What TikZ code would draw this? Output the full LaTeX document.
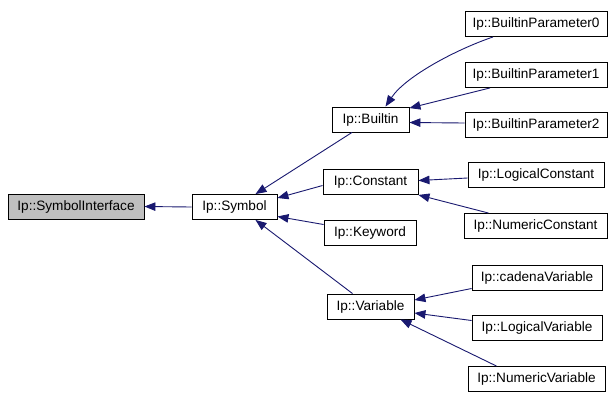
\documentclass[tikz,border=0pt]{standalone}
\usepackage{fontspec}
\setmainfont{Liberation Sans}
\usetikzlibrary{arrows.meta}
\definecolor{edgeblue}{RGB}{25,25,112}
\definecolor{basegray}{RGB}{191,191,191}
\begin{document}
\begin{tikzpicture}[x=1pt,y=-1pt,
  cls/.style={draw=black,line width=0.9pt,rectangle,inner sep=0pt,minimum height=25pt,font=\fontsize{13.6}{15}\selectfont,fill=white},
  arr/.style={draw=edgeblue,line width=0.9pt,-{Triangle[length=11pt,width=8.5pt,fill=edgeblue]}}]
\fill[white] (0,0) rectangle (615,400);
\useasboundingbox (0,0) rectangle (615,400);
\node[cls,fill=basegray,minimum width=136pt] (si) at (76,206.5) {Ip::SymbolInterface};
\node[cls,minimum width=85pt] (symbol) at (234.5,207) {Ip::Symbol};
\node[cls,minimum width=77pt] (builtin) at (370.5,119.5) {Ip::Builtin};
\node[cls,minimum width=95pt] (constant) at (370.5,182) {Ip::Constant};
\node[cls,minimum width=92pt] (keyword) at (370,232.5) {Ip::Keyword};
\node[cls,minimum width=87pt] (variable) at (370.5,306.5) {Ip::Variable};
\node[cls,minimum width=142pt] (bp0) at (536,24) {Ip::BuiltinParameter0};
\node[cls,minimum width=142pt] (bp1) at (536,75) {Ip::BuiltinParameter1};
\node[cls,minimum width=142pt] (bp2) at (536,124.5) {Ip::BuiltinParameter2};
\node[cls,minimum width=136pt] (lc) at (536,175) {Ip::LogicalConstant};
\node[cls,minimum width=143pt] (nc) at (535.5,226) {Ip::NumericConstant};
\node[cls,minimum width=130pt] (cv) at (537,277.5) {Ip::cadenaVariable};
\node[cls,minimum width=130pt] (lv) at (537,327.5) {Ip::LogicalVariable};
\node[cls,minimum width=137pt] (nv) at (536.5,379) {Ip::NumericVariable};
\draw[arr] (symbol.west) -- (si.east);
\draw[arr] ([xshift=-18.5pt]builtin.south) -- ([xshift=21pt]symbol.north);
\draw[arr] ([yshift=-3.5pt]constant.west) -- ([yshift=9pt]symbol.east);
\draw[arr] ([yshift=8pt]keyword.west) -- ([yshift=-9.5pt]symbol.east);
\draw[arr] ([xshift=-18pt]variable.north) -- ([xshift=21pt]symbol.south);
\draw[arr] ([xshift=-43pt]bp0.south) .. controls +(-38,13) and +(20,-30) .. ([xshift=15pt]builtin.north);
\draw[arr] ([xshift=-46pt]bp1.south) -- ([yshift=-1.5pt]builtin.north east);
\draw[arr] ([yshift=1.5pt]bp2.west) -- ([yshift=-3pt]builtin.east);
\draw[arr] ([yshift=-3pt]lc.west) -- ([yshift=1.5pt]constant.east);
\draw[arr] ([xshift=-47pt]nc.north) -- (constant.south east);
\draw[arr] ([yshift=-11pt]cv.west) -- ([yshift=6.5pt]variable.east);
\draw[arr] ([yshift=7pt]lv.west) -- ([yshift=-6.5pt]variable.east);
\draw[arr] ([xshift=-40pt]nv.north) -- ([xshift=30pt]variable.south);
\end{tikzpicture}
\end{document}
